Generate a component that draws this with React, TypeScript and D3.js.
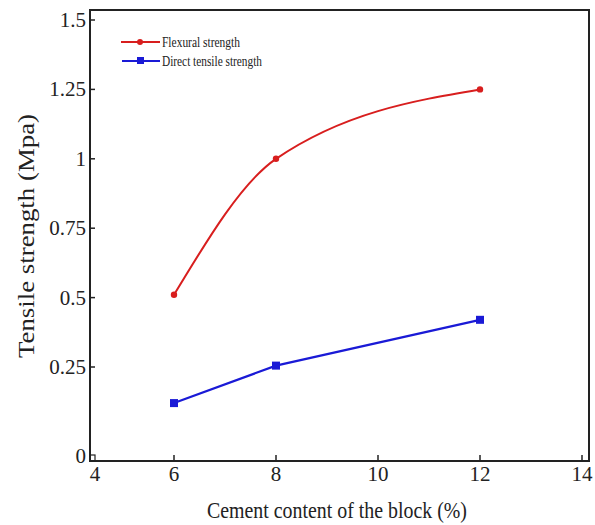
import React from "react";
import * as d3 from "d3";

const cement = [6, 8, 12];
const flexural = [0.51, 1.0, 1.25];
const directTensile = [0.12, 0.255, 0.42];
const xTicks = [6, 8, 10, 12, 14];
const yTicks = [0.25, 0.5, 0.75, 1, 1.25, 1.5];
const yTickLabels = ["0.25", "0.5", "0.75", "1", "1.25", "1.5"];

export default function App() {
  const W = 595, H = 525;
  const left = 90, right = 589, top = 10, bottom = 461;
  const x = d3.scaleLinear().domain([6, 14]).range([174, 582]);
  const y = d3.scaleLinear().domain([0.25, 1.5]).range([367, 20]);
  const font = "'Liberation Serif', 'Times New Roman', serif";
  const red = "#d81e1e";
  const blue = "#1a1ad6";
  const redPts = cement.map((c, i) => [x(c), y(flexural[i])] as [number, number]);
  const bluePts = cement.map((c, i) => [x(c), y(directTensile[i])] as [number, number]);
  const smooth = d3.line().curve(d3.curveMonotoneX);
  const straight = d3.line();
  return (
    <svg width={W} height={H} style={{ position: "absolute", left: 0, top: 0 }} fontFamily={font}>
      <rect width={W} height={H} fill="#fff" />
      {/* frame */}
      <path d={`M${left},${top}H${right}V${bottom}H${left}Z`} fill="none" stroke="#222" strokeWidth={2} />
      {/* y ticks */}
      {yTicks.map((t, i) => (
        <g key={t}>
          <line x1={left} x2={left + 5} y1={y(t)} y2={y(t)} stroke="#222" strokeWidth={1.5} />
          <text x={86} y={y(t) + 7} textAnchor="end" fontSize={21} fill="#222">{yTickLabels[i]}</text>
        </g>
      ))}
      <text x={86} y={bottom + 2} textAnchor="end" fontSize={21} fill="#222">0</text>
      <rect x={left} y={bottom - 6} width={5} height={6} fill="none" stroke="#222" strokeWidth={1.2} />
      {/* x ticks */}
      {xTicks.map((t) => (
        <g key={t}>
          <line x1={x(t)} x2={x(t)} y1={bottom} y2={bottom - 6} stroke="#222" strokeWidth={1.5} />
          <text x={x(t)} y={481} textAnchor="middle" fontSize={21} fill="#222">{t}</text>
        </g>
      ))}
      <text x={95} y={481} textAnchor="middle" fontSize={21} fill="#222">4</text>
      {/* axis titles */}
      <text x={337} y={518} textAnchor="middle" fontSize={23} fill="#222" textLength={260} lengthAdjust="spacingAndGlyphs">
        Cement content of the block (%)
      </text>
      <text transform="translate(34,236) rotate(-90)" textAnchor="middle" fontSize={23} fill="#222" textLength={244} lengthAdjust="spacingAndGlyphs">
        Tensile strength (Mpa)
      </text>
      {/* series */}
      <path d={smooth(redPts) || ""} fill="none" stroke={red} strokeWidth={2} />
      {redPts.map((p, i) => (
        <circle key={i} cx={p[0]} cy={p[1]} r={3.2} fill={red} />
      ))}
      <path d={straight(bluePts) || ""} fill="none" stroke={blue} strokeWidth={2.2} />
      {bluePts.map((p, i) => (
        <rect key={i} x={p[0] - 4} y={p[1] - 4} width={8} height={8} fill={blue} />
      ))}
      {/* legend */}
      <line x1={121} x2={160} y1={42} y2={42} stroke={red} strokeWidth={2} />
      <circle cx={140} cy={42} r={3} fill={red} />
      <text x={162} y={47} fontSize={14.5} fill="#222" textLength={78} lengthAdjust="spacingAndGlyphs">Flexural strength</text>
      <line x1={122} x2={160} y1={61} y2={61} stroke={blue} strokeWidth={2} />
      <rect x={137} y={57} width={7} height={7} fill={blue} />
      <text x={162} y={66} fontSize={14.5} fill="#222" textLength={100} lengthAdjust="spacingAndGlyphs">Direct tensile strength</text>
    </svg>
  );
}
